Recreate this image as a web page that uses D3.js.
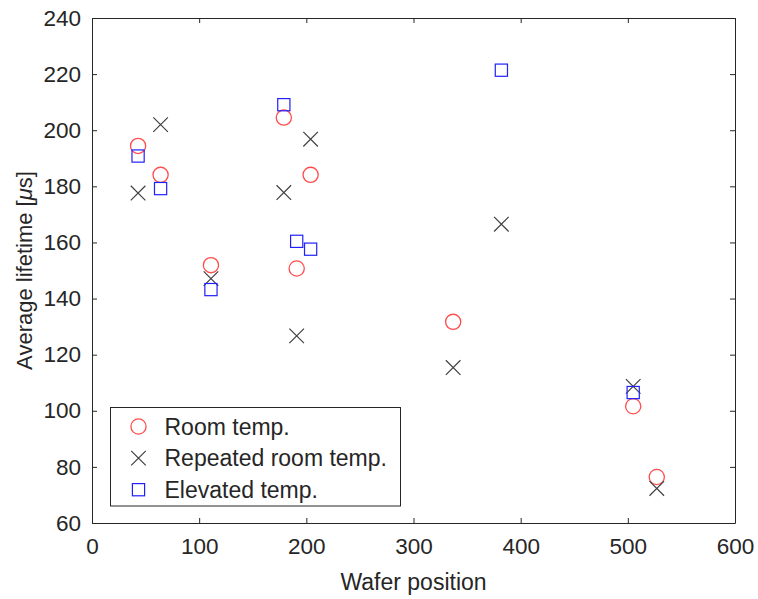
<!DOCTYPE html>
<html>
<head>
<meta charset="utf-8">
<script src="https://cdn.jsdelivr.net/npm/d3@7"></script>
<style>
  body { margin: 0; background: #fff; }
  text { font-family: "Liberation Sans", Arial, sans-serif; fill: #262626; }
</style>
</head>
<body>
<svg id="chart" width="758" height="599"></svg>
<script>
const positionsRoom = [43, 64, 111, 179, 191, 204, 337, 505, 527];
const valuesRoom = [194.4, 184.1, 151.9, 204.5, 150.7, 184.1, 131.7, 101.6, 76.4];

const positionsRepeated = [43, 64, 111, 179, 191, 204, 337, 382, 505, 527];
const valuesRepeated = [177.6, 202, 147.1, 177.8, 126.7, 196.8, 115.4, 166.5, 108.7, 72.3];

const positionsElevated = [43, 64, 111, 179, 191, 204, 382, 505];
const valuesElevated = [190.8, 179.2, 143.2, 209.1, 160.4, 157.6, 221.4, 106.5];

const xTicks = [0, 100, 200, 300, 400, 500, 600];
const yTicks = [60, 80, 100, 120, 140, 160, 180, 200, 220, 240];

const margin = {left: 92, right: 23, top: 18, bottom: 76};
const width = 758, height = 599;
const innerWidth = width - margin.left - margin.right;
const innerHeight = height - margin.top - margin.bottom;
const axisColor = '#262626';

const svg = d3.select('#chart');
const g = svg.append('g')
    .attr('transform', `translate(${margin.left}, ${margin.top})`);

const x = d3.scaleLinear().domain([0, 600]).range([0, innerWidth]);
const y = d3.scaleLinear().domain([60, 240]).range([innerHeight, 0]);

// Axes (box with inward ticks on all four sides)
const tickLen = 5;
const xAxis = g.append('g')
    .attr('transform', `translate(0, ${innerHeight})`)
    .call(d3.axisBottom(x).tickValues(xTicks).tickSizeInner(-tickLen).tickSizeOuter(0).tickPadding(15));
const yAxis = g.append('g')
    .call(d3.axisLeft(y).tickValues(yTicks).tickSizeInner(-tickLen).tickSizeOuter(0).tickPadding(11));
const xTop = g.append('g')
    .call(d3.axisTop(x).tickValues(xTicks).tickSizeInner(-tickLen).tickSizeOuter(0));
const yRight = g.append('g')
    .attr('transform', `translate(${innerWidth}, 0)`)
    .call(d3.axisRight(y).tickValues(yTicks).tickSizeInner(-tickLen).tickSizeOuter(0));
xTop.selectAll('.tick text').remove();
yRight.selectAll('.tick text').remove();

[xAxis, yAxis, xTop, yRight].forEach(a => {
    a.select('.domain').style('stroke', axisColor).style('stroke-width', 1);
    a.selectAll('.tick line').style('stroke', axisColor);
    a.selectAll('.tick text')
        .style('font-size', '22.5px')
        .style('font-family', '"Liberation Sans", Arial, sans-serif')
        .style('fill', axisColor);
});

// Axis labels
svg.append('text')
    .attr('x', margin.left + innerWidth / 2)
    .attr('y', 590)
    .attr('text-anchor', 'middle')
    .style('font-size', '23px')
    .text('Wafer position');

const yLabel = svg.append('text')
    .attr('transform', `translate(32, ${margin.top + innerHeight / 2}) rotate(-90)`)
    .attr('text-anchor', 'middle')
    .style('font-size', '22px');
yLabel.append('tspan').text('Average lifetime [');
yLabel.append('tspan').style('font-style', 'italic').text('μ');
yLabel.append('tspan').text('s]');

// Marker drawers
const circleColor = '#ff4d4d';
const crossColor = '#404040';
const squareColor = '#2020ff';

function drawCircle(sel) {
    sel.append('circle')
        .attr('r', 7.6)
        .style('fill', 'none')
        .style('stroke', circleColor)
        .style('stroke-width', 1.3);
}
function drawCross(sel) {
    const s = 7.3;
    sel.append('path')
        .attr('d', `M${-s},${-s}L${s},${s}M${-s},${s}L${s},${-s}`)
        .style('fill', 'none')
        .style('stroke', crossColor)
        .style('stroke-width', 1.2);
}
function drawSquare(sel) {
    const s = 6.1;
    sel.append('rect')
        .attr('x', -s).attr('y', -s)
        .attr('width', 2 * s).attr('height', 2 * s)
        .style('fill', 'none')
        .style('stroke', squareColor)
        .style('stroke-width', 1.2);
}

function drawSeries(positions, values, drawer, cls) {
    const pts = positions.map((p, i) => ({x: p, y: values[i]}));
    g.selectAll(`.${cls}`)
        .data(pts)
        .join('g')
            .classed(cls, true)
            .attr('transform', d => `translate(${x(d.x)}, ${y(d.y)})`)
            .each(function() { drawer(d3.select(this)); });
}

drawSeries(positionsRoom, valuesRoom, drawCircle, 'room');
drawSeries(positionsRepeated, valuesRepeated, drawCross, 'repeated');
drawSeries(positionsElevated, valuesElevated, drawSquare, 'elevated');

// Legend
const legendItems = [
    {label: 'Room temp.', drawer: drawCircle},
    {label: 'Repeated room temp.', drawer: drawCross},
    {label: 'Elevated temp.', drawer: drawSquare}
];
const legend = svg.append('g').attr('transform', 'translate(110.5, 407.5)');
legend.append('rect')
    .attr('width', 290)
    .attr('height', 98.5)
    .style('fill', '#fff')
    .style('stroke', axisColor)
    .style('stroke-width', 1);

legendItems.forEach((item, i) => {
    const row = legend.append('g')
        .attr('transform', `translate(0, ${19 + i * 31.6})`);
    const m = row.append('g').attr('transform', 'translate(28, 0)');
    item.drawer(m);
    row.append('text')
        .attr('x', 54)
        .attr('y', 0)
        .attr('dy', '0.35em')
        .style('font-size', '23px')
        .text(item.label);
});
</script>
</body>
</html>
